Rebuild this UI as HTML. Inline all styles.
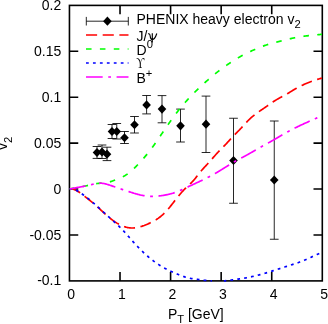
<!DOCTYPE html>
<html><head><meta charset="utf-8"><title>v2</title>
<style>html,body{margin:0;padding:0;background:#fff;overflow:hidden}body{width:328px;height:324px;position:relative;font-family:"Liberation Sans",sans-serif}</style>
</head><body>
<svg width="328" height="324" viewBox="0 0 328 324" style="position:absolute;left:0;top:0">
<rect width="328" height="324" fill="#fff"/>
<clipPath id="c"><rect x="69.45" y="5.4" width="252.85000000000002" height="278.5"/></clipPath>
<g stroke="#000" stroke-width="1.6" fill="none">
<rect x="69.45" y="5.4" width="252.85000000000002" height="275.5"/>
<path d="M120.02,280.9 L120.02,272.09999999999997 M120.02,5.4 L120.02,14.200000000000001"/>
<path d="M170.59,280.9 L170.59,272.09999999999997 M170.59,5.4 L170.59,14.200000000000001"/>
<path d="M221.16,280.9 L221.16,272.09999999999997 M221.16,5.4 L221.16,14.200000000000001"/>
<path d="M271.73,280.9 L271.73,272.09999999999997 M271.73,5.4 L271.73,14.200000000000001"/>
<path d="M69.45,51.32 L78.25,51.32 M322.3,51.32 L313.5,51.32"/>
<path d="M69.45,97.23 L78.25,97.23 M322.3,97.23 L313.5,97.23"/>
<path d="M69.45,143.15 L78.25,143.15 M322.3,143.15 L313.5,143.15"/>
<path d="M69.45,189.07 L78.25,189.07 M322.3,189.07 L313.5,189.07"/>
<path d="M69.45,234.98 L78.25,234.98 M322.3,234.98 L313.5,234.98"/>
</g>
<path d="M86,35 L128.5,35" fill="none" stroke="#ff0000" stroke-width="1.7" stroke-dasharray="11.12,5.56"/>
<path d="M86,49 L128.5,49" fill="none" stroke="#00ff00" stroke-width="1.7" stroke-dasharray="5.56,8.34"/>
<path d="M86,63 L128.5,63" fill="none" stroke="#0000ff" stroke-width="1.7" stroke-dasharray="2.78,4.17"/>
<path d="M86,77 L128.5,77" fill="none" stroke="#ff00ff" stroke-width="1.7" stroke-dasharray="16.68,5.56,2.78,5.56"/>
<g stroke="#000" stroke-width="0.85" fill="none"><path d="M86.3,21.2 L128.3,21.2 M86.3,16.9 L86.3,25.5 M128.3,16.9 L128.3,25.5"/></g>
<path d="M103.10,21.20 L107.40,16.60 L111.70,21.20 L107.40,25.80Z" fill="#000"/>
<g stroke="#000" stroke-width="0.85" fill="none">
<path d="M97,146.5 L97,158.4 M92.65,146.5 L101.35,146.5 M92.65,158.4 L101.35,158.4"/>
<path d="M102,145 L102,158.5 M97.65,145 L106.35,145 M97.65,158.5 L106.35,158.5"/>
<path d="M107,147.2 L107,160.6 M102.65,147.2 L111.35,147.2 M102.65,160.6 L111.35,160.6"/>
<path d="M112,124.5 L112,138.5 M107.65,124.5 L116.35,124.5 M107.65,138.5 L116.35,138.5"/>
<path d="M116.75,123.5 L116.75,139 M112.4,123.5 L121.1,123.5 M112.4,139 L121.1,139"/>
<path d="M124.5,131.5 L124.5,143.5 M120.15,131.5 L128.85,131.5 M120.15,143.5 L128.85,143.5"/>
<path d="M134.5,116.5 L134.5,133 M130.15,116.5 L138.85,116.5 M130.15,133 L138.85,133"/>
<path d="M146.6,95.5 L146.6,113.9 M142.25,95.5 L150.95,95.5 M142.25,113.9 L150.95,113.9"/>
<path d="M162,95.6 L162,122.8 M157.65,95.6 L166.35,95.6 M157.65,122.8 L166.35,122.8"/>
<path d="M180.5,109.1 L180.5,142 M176.15,109.1 L184.85,109.1 M176.15,142 L184.85,142"/>
<path d="M206,96.1 L206,152.5 M201.65,96.1 L210.35,96.1 M201.65,152.5 L210.35,152.5"/>
<path d="M233.5,118.25 L233.5,203.25 M229.15,118.25 L237.85,118.25 M229.15,203.25 L237.85,203.25"/>
<path d="M274.25,121 L274.25,239.25 M269.9,121 L278.6,121 M269.9,239.25 L278.6,239.25"/>
</g>
<path d="M92.70,152.50 L97.00,147.90 L101.30,152.50 L97.00,157.10Z" fill="#000"/>
<path d="M97.70,152.00 L102.00,147.40 L106.30,152.00 L102.00,156.60Z" fill="#000"/>
<path d="M102.70,154.20 L107.00,149.60 L111.30,154.20 L107.00,158.80Z" fill="#000"/>
<path d="M107.70,131.50 L112.00,126.90 L116.30,131.50 L112.00,136.10Z" fill="#000"/>
<path d="M112.45,131.50 L116.75,126.90 L121.05,131.50 L116.75,136.10Z" fill="#000"/>
<path d="M120.20,137.75 L124.50,133.15 L128.80,137.75 L124.50,142.35Z" fill="#000"/>
<path d="M130.20,124.75 L134.50,120.15 L138.80,124.75 L134.50,129.35Z" fill="#000"/>
<path d="M142.30,104.90 L146.60,100.30 L150.90,104.90 L146.60,109.50Z" fill="#000"/>
<path d="M157.70,109.10 L162.00,104.50 L166.30,109.10 L162.00,113.70Z" fill="#000"/>
<path d="M176.20,125.80 L180.50,121.20 L184.80,125.80 L180.50,130.40Z" fill="#000"/>
<path d="M201.70,124.20 L206.00,119.60 L210.30,124.20 L206.00,128.80Z" fill="#000"/>
<path d="M229.20,160.50 L233.50,155.90 L237.80,160.50 L233.50,165.10Z" fill="#000"/>
<path d="M269.95,180.00 L274.25,175.40 L278.55,180.00 L274.25,184.60Z" fill="#000"/>
<g clip-path="url(#c)" fill="none" stroke-linecap="butt">
<path d="M69.50,189.00 L70.13,188.93 L70.77,188.90 L71.40,188.92 L72.03,188.99 L72.66,189.10 L73.30,189.26 L73.93,189.45 L74.56,189.67 L75.20,189.93 L75.83,190.23 L76.46,190.55 L77.09,190.90 L77.73,191.27 L78.36,191.67 L78.99,192.08 L79.63,192.51 L80.26,192.96 L80.89,193.43 L81.52,193.90 L82.16,194.38 L82.79,194.87 L83.42,195.36 L84.06,195.85 L84.69,196.35 L85.32,196.84 L85.95,197.33 L86.59,197.82 L87.22,198.31 L87.85,198.80 L88.48,199.29 L89.12,199.79 L89.75,200.28 L90.38,200.79 L91.02,201.29 L91.65,201.81 L92.28,202.33 L92.91,202.85 L93.55,203.38 L94.18,203.93 L94.81,204.48 L95.45,205.03 L96.08,205.60 L96.71,206.17 L97.34,206.75 L97.98,207.33 L98.61,207.91 L99.24,208.50 L99.88,209.09 L100.51,209.68 L101.14,210.27 L101.77,210.86 L102.41,211.45 L103.04,212.04 L103.67,212.62 L104.31,213.21 L104.94,213.79 L105.57,214.36 L106.20,214.93 L106.84,215.49 L107.47,216.05 L108.10,216.60 L108.74,217.14 L109.37,217.67 L110.00,218.20 L110.63,218.71 L111.27,219.21 L111.90,219.70 L112.53,220.17 L113.17,220.64 L113.80,221.09 L114.43,221.52 L115.06,221.95 L115.70,222.36 L116.33,222.75 L116.96,223.14 L117.60,223.51 L118.23,223.86 L118.86,224.21 L119.49,224.54 L120.13,224.86 L120.76,225.16 L121.39,225.45 L122.03,225.73 L122.66,225.99 L123.29,226.24 L123.92,226.48 L124.56,226.70 L125.19,226.90 L125.82,227.09 L126.45,227.26 L127.09,227.42 L127.72,227.56 L128.35,227.68 L128.99,227.78 L129.62,227.87 L130.25,227.93 L130.88,227.98 L131.52,228.01 L132.15,228.02 L132.78,228.01 L133.42,227.98 L134.05,227.93 L134.68,227.87 L135.31,227.79 L135.95,227.70 L136.58,227.59 L137.21,227.47 L137.85,227.34 L138.48,227.19 L139.11,227.04 L139.74,226.87 L140.38,226.69 L141.01,226.51 L141.64,226.32 L142.28,226.11 L142.91,225.90 L143.54,225.68 L144.17,225.46 L144.81,225.22 L145.44,224.98 L146.07,224.73 L146.71,224.47 L147.34,224.20 L147.97,223.93 L148.60,223.65 L149.24,223.36 L149.87,223.06 L150.50,222.76 L151.14,222.45 L151.77,222.13 L152.40,221.81 L153.03,221.47 L153.67,221.12 L154.30,220.77 L154.93,220.40 L155.57,220.02 L156.20,219.63 L156.83,219.22 L157.46,218.80 L158.10,218.37 L158.73,217.92 L159.36,217.45 L159.99,216.97 L160.63,216.47 L161.26,215.96 L161.89,215.42 L162.53,214.87 L163.16,214.29 L163.79,213.70 L164.42,213.08 L165.06,212.44 L165.69,211.78 L166.32,211.10 L166.96,210.40 L167.59,209.68 L168.22,208.95 L168.85,208.20 L169.49,207.44 L170.12,206.66 L170.75,205.88 L171.39,205.09 L172.02,204.29 L172.65,203.49 L173.28,202.69 L173.92,201.88 L174.55,201.07 L175.18,200.27 L175.82,199.46 L176.45,198.66 L177.08,197.87 L177.71,197.08 L178.35,196.30 L178.98,195.52 L179.61,194.76 L180.25,194.00 L180.88,193.26 L181.51,192.53 L182.14,191.81 L182.78,191.10 L183.41,190.41 L184.04,189.74 L184.68,189.08 L185.31,188.44 L185.94,187.82 L186.57,187.21 L187.21,186.61 L187.84,186.02 L188.47,185.43 L189.11,184.84 L189.74,184.25 L190.37,183.64 L191.00,183.03 L191.64,182.41 L192.27,181.76 L192.90,181.10 L193.54,180.41 L194.17,179.69 L194.80,178.95 L195.43,178.18 L196.07,177.39 L196.70,176.59 L197.33,175.79 L197.96,174.97 L198.60,174.16 L199.23,173.36 L199.86,172.56 L200.50,171.78 L201.13,171.02 L201.76,170.28 L202.39,169.55 L203.03,168.84 L203.66,168.13 L204.29,167.44 L204.93,166.75 L205.56,166.07 L206.19,165.39 L206.82,164.71 L207.46,164.03 L208.09,163.35 L208.72,162.67 L209.36,161.97 L209.99,161.27 L210.62,160.55 L211.25,159.83 L211.89,159.11 L212.52,158.38 L213.15,157.65 L213.79,156.92 L214.42,156.20 L215.05,155.47 L215.68,154.76 L216.32,154.05 L216.95,153.35 L217.58,152.67 L218.22,151.99 L218.85,151.33 L219.48,150.67 L220.11,150.02 L220.75,149.38 L221.38,148.73 L222.01,148.09 L222.65,147.45 L223.28,146.81 L223.91,146.17 L224.54,145.53 L225.18,144.87 L225.81,144.22 L226.44,143.55 L227.08,142.87 L227.71,142.19 L228.34,141.50 L228.97,140.81 L229.61,140.12 L230.24,139.43 L230.87,138.73 L231.51,138.04 L232.14,137.36 L232.77,136.68 L233.40,136.01 L234.04,135.35 L234.67,134.70 L235.30,134.06 L235.93,133.42 L236.57,132.78 L237.20,132.15 L237.83,131.51 L238.47,130.87 L239.10,130.23 L239.73,129.58 L240.36,128.92 L241.00,128.25 L241.63,127.57 L242.26,126.89 L242.90,126.20 L243.53,125.51 L244.16,124.82 L244.79,124.13 L245.43,123.44 L246.06,122.76 L246.69,122.09 L247.33,121.42 L247.96,120.77 L248.59,120.13 L249.22,119.50 L249.86,118.89 L250.49,118.29 L251.12,117.71 L251.76,117.15 L252.39,116.60 L253.02,116.07 L253.65,115.55 L254.29,115.05 L254.92,114.55 L255.55,114.07 L256.19,113.60 L256.82,113.13 L257.45,112.68 L258.08,112.23 L258.72,111.78 L259.35,111.34 L259.98,110.91 L260.62,110.48 L261.25,110.05 L261.88,109.62 L262.51,109.19 L263.15,108.77 L263.78,108.34 L264.41,107.90 L265.05,107.47 L265.68,107.03 L266.31,106.59 L266.94,106.14 L267.58,105.70 L268.21,105.25 L268.84,104.80 L269.47,104.35 L270.11,103.91 L270.74,103.47 L271.37,103.03 L272.01,102.59 L272.64,102.16 L273.27,101.74 L273.90,101.32 L274.54,100.91 L275.17,100.51 L275.80,100.12 L276.44,99.74 L277.07,99.37 L277.70,99.00 L278.33,98.65 L278.97,98.30 L279.60,97.95 L280.23,97.61 L280.87,97.27 L281.50,96.94 L282.13,96.60 L282.76,96.27 L283.40,95.93 L284.03,95.59 L284.66,95.25 L285.30,94.90 L285.93,94.54 L286.56,94.18 L287.19,93.81 L287.83,93.43 L288.46,93.06 L289.09,92.67 L289.73,92.29 L290.36,91.90 L290.99,91.51 L291.62,91.12 L292.26,90.73 L292.89,90.34 L293.52,89.96 L294.16,89.58 L294.79,89.20 L295.42,88.83 L296.05,88.47 L296.69,88.11 L297.32,87.76 L297.95,87.42 L298.59,87.08 L299.22,86.75 L299.85,86.43 L300.48,86.11 L301.12,85.80 L301.75,85.50 L302.38,85.20 L303.02,84.90 L303.65,84.62 L304.28,84.33 L304.91,84.06 L305.55,83.78 L306.18,83.52 L306.81,83.25 L307.44,83.00 L308.08,82.74 L308.71,82.49 L309.34,82.25 L309.98,82.01 L310.61,81.77 L311.24,81.54 L311.87,81.31 L312.51,81.08 L313.14,80.86 L313.77,80.64 L314.41,80.42 L315.04,80.21 L315.67,80.00 L316.30,79.79 L316.94,79.58 L317.57,79.38 L318.20,79.18 L318.84,78.98 L319.47,78.78 L320.10,78.58 L320.73,78.39 L321.37,78.19 L322.00,78.00" stroke="#ff0000" stroke-width="1.7" stroke-dasharray="11.12,5.56" stroke-dashoffset="-0.5"/>
<path d="M69.50,189.00 L70.13,188.87 L70.77,188.73 L71.40,188.61 L72.03,188.48 L72.66,188.36 L73.30,188.24 L73.93,188.12 L74.56,188.01 L75.20,187.89 L75.83,187.78 L76.46,187.67 L77.09,187.56 L77.73,187.45 L78.36,187.34 L78.99,187.23 L79.63,187.11 L80.26,187.00 L80.89,186.88 L81.52,186.77 L82.16,186.65 L82.79,186.53 L83.42,186.41 L84.06,186.28 L84.69,186.15 L85.32,186.02 L85.95,185.88 L86.59,185.74 L87.22,185.60 L87.85,185.45 L88.48,185.31 L89.12,185.16 L89.75,185.01 L90.38,184.87 L91.02,184.72 L91.65,184.58 L92.28,184.44 L92.91,184.30 L93.55,184.17 L94.18,184.04 L94.81,183.92 L95.45,183.80 L96.08,183.70 L96.71,183.59 L97.34,183.50 L97.98,183.42 L98.61,183.34 L99.24,183.28 L99.88,183.22 L100.51,183.17 L101.14,183.13 L101.77,183.09 L102.41,183.05 L103.04,183.00 L103.67,182.96 L104.31,182.90 L104.94,182.84 L105.57,182.76 L106.20,182.67 L106.84,182.56 L107.47,182.44 L108.10,182.30 L108.74,182.15 L109.37,181.99 L110.00,181.81 L110.63,181.62 L111.27,181.42 L111.90,181.21 L112.53,180.99 L113.17,180.76 L113.80,180.52 L114.43,180.27 L115.06,180.01 L115.70,179.76 L116.33,179.49 L116.96,179.23 L117.60,178.97 L118.23,178.71 L118.86,178.44 L119.49,178.18 L120.13,177.92 L120.76,177.65 L121.39,177.37 L122.03,177.08 L122.66,176.78 L123.29,176.47 L123.92,176.14 L124.56,175.80 L125.19,175.44 L125.82,175.05 L126.45,174.64 L127.09,174.22 L127.72,173.77 L128.35,173.31 L128.99,172.82 L129.62,172.32 L130.25,171.81 L130.88,171.27 L131.52,170.73 L132.15,170.17 L132.78,169.59 L133.42,169.01 L134.05,168.41 L134.68,167.80 L135.31,167.19 L135.95,166.56 L136.58,165.93 L137.21,165.28 L137.85,164.63 L138.48,163.97 L139.11,163.30 L139.74,162.62 L140.38,161.93 L141.01,161.23 L141.64,160.53 L142.28,159.82 L142.91,159.10 L143.54,158.37 L144.17,157.63 L144.81,156.89 L145.44,156.14 L146.07,155.37 L146.71,154.61 L147.34,153.83 L147.97,153.04 L148.60,152.25 L149.24,151.44 L149.87,150.63 L150.50,149.81 L151.14,148.97 L151.77,148.13 L152.40,147.28 L153.03,146.42 L153.67,145.54 L154.30,144.66 L154.93,143.77 L155.57,142.88 L156.20,141.97 L156.83,141.06 L157.46,140.14 L158.10,139.22 L158.73,138.30 L159.36,137.37 L159.99,136.44 L160.63,135.50 L161.26,134.57 L161.89,133.63 L162.53,132.70 L163.16,131.76 L163.79,130.83 L164.42,129.90 L165.06,128.97 L165.69,128.04 L166.32,127.11 L166.96,126.19 L167.59,125.27 L168.22,124.36 L168.85,123.45 L169.49,122.55 L170.12,121.65 L170.75,120.76 L171.39,119.87 L172.02,118.99 L172.65,118.12 L173.28,117.25 L173.92,116.39 L174.55,115.54 L175.18,114.69 L175.82,113.85 L176.45,113.02 L177.08,112.20 L177.71,111.38 L178.35,110.57 L178.98,109.77 L179.61,108.98 L180.25,108.20 L180.88,107.42 L181.51,106.66 L182.14,105.90 L182.78,105.15 L183.41,104.41 L184.04,103.67 L184.68,102.95 L185.31,102.23 L185.94,101.51 L186.57,100.81 L187.21,100.11 L187.84,99.41 L188.47,98.73 L189.11,98.05 L189.74,97.37 L190.37,96.70 L191.00,96.04 L191.64,95.38 L192.27,94.72 L192.90,94.07 L193.54,93.43 L194.17,92.79 L194.80,92.15 L195.43,91.52 L196.07,90.89 L196.70,90.27 L197.33,89.66 L197.96,89.04 L198.60,88.43 L199.23,87.83 L199.86,87.23 L200.50,86.63 L201.13,86.04 L201.76,85.45 L202.39,84.87 L203.03,84.29 L203.66,83.71 L204.29,83.14 L204.93,82.57 L205.56,82.00 L206.19,81.44 L206.82,80.88 L207.46,80.33 L208.09,79.77 L208.72,79.23 L209.36,78.68 L209.99,78.14 L210.62,77.61 L211.25,77.07 L211.89,76.54 L212.52,76.02 L213.15,75.49 L213.79,74.97 L214.42,74.46 L215.05,73.95 L215.68,73.44 L216.32,72.93 L216.95,72.43 L217.58,71.94 L218.22,71.44 L218.85,70.95 L219.48,70.46 L220.11,69.98 L220.75,69.50 L221.38,69.02 L222.01,68.55 L222.65,68.08 L223.28,67.62 L223.91,67.16 L224.54,66.70 L225.18,66.24 L225.81,65.79 L226.44,65.35 L227.08,64.90 L227.71,64.46 L228.34,64.03 L228.97,63.60 L229.61,63.17 L230.24,62.75 L230.87,62.33 L231.51,61.91 L232.14,61.50 L232.77,61.09 L233.40,60.69 L234.04,60.29 L234.67,59.90 L235.30,59.51 L235.93,59.12 L236.57,58.74 L237.20,58.36 L237.83,57.99 L238.47,57.62 L239.10,57.26 L239.73,56.90 L240.36,56.55 L241.00,56.20 L241.63,55.85 L242.26,55.51 L242.90,55.18 L243.53,54.84 L244.16,54.52 L244.79,54.19 L245.43,53.87 L246.06,53.55 L246.69,53.24 L247.33,52.93 L247.96,52.62 L248.59,52.32 L249.22,52.02 L249.86,51.72 L250.49,51.42 L251.12,51.13 L251.76,50.84 L252.39,50.55 L253.02,50.26 L253.65,49.98 L254.29,49.70 L254.92,49.42 L255.55,49.14 L256.19,48.87 L256.82,48.60 L257.45,48.33 L258.08,48.06 L258.72,47.80 L259.35,47.55 L259.98,47.29 L260.62,47.04 L261.25,46.79 L261.88,46.55 L262.51,46.31 L263.15,46.08 L263.78,45.85 L264.41,45.63 L265.05,45.41 L265.68,45.19 L266.31,44.98 L266.94,44.78 L267.58,44.58 L268.21,44.38 L268.84,44.19 L269.47,44.00 L270.11,43.82 L270.74,43.64 L271.37,43.46 L272.01,43.29 L272.64,43.12 L273.27,42.95 L273.90,42.79 L274.54,42.62 L275.17,42.46 L275.80,42.30 L276.44,42.14 L277.07,41.98 L277.70,41.82 L278.33,41.66 L278.97,41.51 L279.60,41.35 L280.23,41.19 L280.87,41.03 L281.50,40.87 L282.13,40.71 L282.76,40.56 L283.40,40.40 L284.03,40.24 L284.66,40.08 L285.30,39.92 L285.93,39.76 L286.56,39.61 L287.19,39.45 L287.83,39.30 L288.46,39.15 L289.09,39.00 L289.73,38.85 L290.36,38.70 L290.99,38.56 L291.62,38.41 L292.26,38.27 L292.89,38.13 L293.52,38.00 L294.16,37.87 L294.79,37.74 L295.42,37.61 L296.05,37.49 L296.69,37.37 L297.32,37.26 L297.95,37.14 L298.59,37.03 L299.22,36.93 L299.85,36.83 L300.48,36.73 L301.12,36.63 L301.75,36.53 L302.38,36.44 L303.02,36.35 L303.65,36.27 L304.28,36.18 L304.91,36.10 L305.55,36.02 L306.18,35.94 L306.81,35.86 L307.44,35.79 L308.08,35.71 L308.71,35.64 L309.34,35.57 L309.98,35.50 L310.61,35.43 L311.24,35.37 L311.87,35.30 L312.51,35.24 L313.14,35.17 L313.77,35.11 L314.41,35.05 L315.04,34.98 L315.67,34.92 L316.30,34.86 L316.94,34.80 L317.57,34.74 L318.20,34.68 L318.84,34.61 L319.47,34.55 L320.10,34.49 L320.73,34.43 L321.37,34.36 L322.00,34.30" stroke="#00ff00" stroke-width="1.7" stroke-dasharray="5.56,8.34" stroke-dashoffset="0.6"/>
<path d="M69.50,189.00 L70.13,188.92 L70.77,188.89 L71.40,188.90 L72.03,188.95 L72.66,189.05 L73.30,189.19 L73.93,189.36 L74.56,189.56 L75.20,189.80 L75.83,190.07 L76.46,190.37 L77.09,190.70 L77.73,191.05 L78.36,191.42 L78.99,191.81 L79.63,192.22 L80.26,192.65 L80.89,193.10 L81.52,193.55 L82.16,194.02 L82.79,194.49 L83.42,194.97 L84.06,195.46 L84.69,195.94 L85.32,196.43 L85.95,196.92 L86.59,197.42 L87.22,197.91 L87.85,198.41 L88.48,198.91 L89.12,199.41 L89.75,199.92 L90.38,200.43 L91.02,200.95 L91.65,201.48 L92.28,202.00 L92.91,202.54 L93.55,203.08 L94.18,203.63 L94.81,204.19 L95.45,204.75 L96.08,205.32 L96.71,205.89 L97.34,206.47 L97.98,207.05 L98.61,207.63 L99.24,208.22 L99.88,208.80 L100.51,209.39 L101.14,209.98 L101.77,210.57 L102.41,211.15 L103.04,211.74 L103.67,212.32 L104.31,212.90 L104.94,213.48 L105.57,214.05 L106.20,214.63 L106.84,215.20 L107.47,215.77 L108.10,216.34 L108.74,216.91 L109.37,217.48 L110.00,218.05 L110.63,218.62 L111.27,219.19 L111.90,219.76 L112.53,220.33 L113.17,220.90 L113.80,221.47 L114.43,222.05 L115.06,222.63 L115.70,223.21 L116.33,223.80 L116.96,224.39 L117.60,224.98 L118.23,225.58 L118.86,226.19 L119.49,226.80 L120.13,227.42 L120.76,228.05 L121.39,228.68 L122.03,229.33 L122.66,229.98 L123.29,230.65 L123.92,231.32 L124.56,232.01 L125.19,232.71 L125.82,233.42 L126.45,234.14 L127.09,234.87 L127.72,235.60 L128.35,236.33 L128.99,237.06 L129.62,237.79 L130.25,238.51 L130.88,239.23 L131.52,239.95 L132.15,240.67 L132.78,241.38 L133.42,242.08 L134.05,242.78 L134.68,243.48 L135.31,244.17 L135.95,244.85 L136.58,245.53 L137.21,246.20 L137.85,246.86 L138.48,247.52 L139.11,248.17 L139.74,248.81 L140.38,249.44 L141.01,250.07 L141.64,250.69 L142.28,251.30 L142.91,251.91 L143.54,252.51 L144.17,253.10 L144.81,253.68 L145.44,254.26 L146.07,254.83 L146.71,255.39 L147.34,255.95 L147.97,256.49 L148.60,257.03 L149.24,257.57 L149.87,258.09 L150.50,258.61 L151.14,259.12 L151.77,259.63 L152.40,260.12 L153.03,260.61 L153.67,261.09 L154.30,261.56 L154.93,262.03 L155.57,262.49 L156.20,262.94 L156.83,263.38 L157.46,263.82 L158.10,264.25 L158.73,264.66 L159.36,265.08 L159.99,265.48 L160.63,265.88 L161.26,266.26 L161.89,266.64 L162.53,267.02 L163.16,267.38 L163.79,267.73 L164.42,268.08 L165.06,268.43 L165.69,268.76 L166.32,269.09 L166.96,269.41 L167.59,269.73 L168.22,270.04 L168.85,270.35 L169.49,270.66 L170.12,270.96 L170.75,271.25 L171.39,271.55 L172.02,271.84 L172.65,272.12 L173.28,272.41 L173.92,272.69 L174.55,272.96 L175.18,273.24 L175.82,273.50 L176.45,273.77 L177.08,274.03 L177.71,274.29 L178.35,274.55 L178.98,274.80 L179.61,275.05 L180.25,275.29 L180.88,275.54 L181.51,275.77 L182.14,276.01 L182.78,276.24 L183.41,276.46 L184.04,276.67 L184.68,276.88 L185.31,277.09 L185.94,277.28 L186.57,277.46 L187.21,277.64 L187.84,277.81 L188.47,277.97 L189.11,278.11 L189.74,278.25 L190.37,278.37 L191.00,278.48 L191.64,278.59 L192.27,278.68 L192.90,278.77 L193.54,278.85 L194.17,278.93 L194.80,279.01 L195.43,279.08 L196.07,279.15 L196.70,279.23 L197.33,279.30 L197.96,279.38 L198.60,279.47 L199.23,279.55 L199.86,279.64 L200.50,279.73 L201.13,279.82 L201.76,279.90 L202.39,279.99 L203.03,280.07 L203.66,280.15 L204.29,280.22 L204.93,280.29 L205.56,280.35 L206.19,280.42 L206.82,280.48 L207.46,280.53 L208.09,280.59 L208.72,280.65 L209.36,280.70 L209.99,280.76 L210.62,280.82 L211.25,280.87 L211.89,280.93 M223.91,280.91 L224.54,280.84 L225.18,280.78 L225.81,280.71 L226.44,280.64 L227.08,280.57 L227.71,280.49 L228.34,280.42 L228.97,280.34 L229.61,280.26 L230.24,280.18 L230.87,280.10 L231.51,280.01 L232.14,279.92 L232.77,279.84 L233.40,279.75 L234.04,279.66 L234.67,279.57 L235.30,279.48 L235.93,279.39 L236.57,279.30 L237.20,279.22 L237.83,279.13 L238.47,279.05 L239.10,278.96 L239.73,278.87 L240.36,278.78 L241.00,278.69 L241.63,278.60 L242.26,278.51 L242.90,278.41 L243.53,278.31 L244.16,278.21 L244.79,278.10 L245.43,277.99 L246.06,277.87 L246.69,277.75 L247.33,277.63 L247.96,277.50 L248.59,277.37 L249.22,277.24 L249.86,277.10 L250.49,276.97 L251.12,276.83 L251.76,276.68 L252.39,276.54 L253.02,276.40 L253.65,276.25 L254.29,276.10 L254.92,275.95 L255.55,275.80 L256.19,275.65 L256.82,275.49 L257.45,275.34 L258.08,275.18 L258.72,275.02 L259.35,274.85 L259.98,274.69 L260.62,274.52 L261.25,274.35 L261.88,274.17 L262.51,274.00 L263.15,273.82 L263.78,273.63 L264.41,273.45 L265.05,273.26 L265.68,273.07 L266.31,272.87 L266.94,272.68 L267.58,272.48 L268.21,272.28 L268.84,272.09 L269.47,271.88 L270.11,271.68 L270.74,271.48 L271.37,271.28 L272.01,271.08 L272.64,270.88 L273.27,270.67 L273.90,270.47 L274.54,270.27 L275.17,270.07 L275.80,269.86 L276.44,269.66 L277.07,269.46 L277.70,269.25 L278.33,269.05 L278.97,268.85 L279.60,268.64 L280.23,268.44 L280.87,268.24 L281.50,268.03 L282.13,267.83 L282.76,267.62 L283.40,267.42 L284.03,267.22 L284.66,267.01 L285.30,266.81 L285.93,266.61 L286.56,266.40 L287.19,266.20 L287.83,266.00 L288.46,265.79 L289.09,265.59 L289.73,265.39 L290.36,265.19 L290.99,264.98 L291.62,264.78 L292.26,264.58 L292.89,264.37 L293.52,264.17 L294.16,263.96 L294.79,263.75 L295.42,263.54 L296.05,263.33 L296.69,263.12 L297.32,262.90 L297.95,262.69 L298.59,262.46 L299.22,262.24 L299.85,262.01 L300.48,261.78 L301.12,261.54 L301.75,261.31 L302.38,261.06 L303.02,260.81 L303.65,260.56 L304.28,260.30 L304.91,260.04 L305.55,259.77 L306.18,259.49 L306.81,259.21 L307.44,258.93 L308.08,258.64 L308.71,258.35 L309.34,258.06 L309.98,257.77 L310.61,257.47 L311.24,257.17 L311.87,256.87 L312.51,256.58 L313.14,256.28 L313.77,255.99 L314.41,255.69 L315.04,255.40 L315.67,255.11 L316.30,254.83 L316.94,254.55 L317.57,254.27 L318.20,254.00 L318.84,253.73 L319.47,253.47 L320.10,253.22 L320.73,252.97 L321.37,252.73 L322.00,252.50" stroke="#0000ff" stroke-width="1.7" stroke-dasharray="2.78,4.17" stroke-dashoffset="0.4"/>
<path d="M69.50,189.00 L70.13,188.87 L70.77,188.74 L71.40,188.61 L72.03,188.49 L72.66,188.37 L73.30,188.25 L73.93,188.13 L74.56,188.02 L75.20,187.90 L75.83,187.79 L76.46,187.67 L77.09,187.56 L77.73,187.45 L78.36,187.34 L78.99,187.22 L79.63,187.11 L80.26,186.99 L80.89,186.88 L81.52,186.76 L82.16,186.64 L82.79,186.52 L83.42,186.40 L84.06,186.27 L84.69,186.15 L85.32,186.02 L85.95,185.88 L86.59,185.75 L87.22,185.61 L87.85,185.47 L88.48,185.32 L89.12,185.18 L89.75,185.03 L90.38,184.88 L91.02,184.73 L91.65,184.58 L92.28,184.43 L92.91,184.28 L93.55,184.14 L94.18,183.99 L94.81,183.86 L95.45,183.73 L96.08,183.61 L96.71,183.50 L97.34,183.41 L97.98,183.33 L98.61,183.27 L99.24,183.23 L99.88,183.20 L100.51,183.20 L101.14,183.23 L101.77,183.27 L102.41,183.34 L103.04,183.42 L103.67,183.52 L104.31,183.64 L104.94,183.77 L105.57,183.92 L106.20,184.08 L106.84,184.25 L107.47,184.44 L108.10,184.63 L108.74,184.82 L109.37,185.03 L110.00,185.24 L110.63,185.45 L111.27,185.67 L111.90,185.90 L112.53,186.12 L113.17,186.35 L113.80,186.57 L114.43,186.80 L115.06,187.02 L115.70,187.24 L116.33,187.46 L116.96,187.68 L117.60,187.89 L118.23,188.11 L118.86,188.32 L119.49,188.53 L120.13,188.74 L120.76,188.95 L121.39,189.16 L122.03,189.37 L122.66,189.59 L123.29,189.80 L123.92,190.01 L124.56,190.22 L125.19,190.43 L125.82,190.64 L126.45,190.84 L127.09,191.05 L127.72,191.26 L128.35,191.47 L128.99,191.67 L129.62,191.88 L130.25,192.08 L130.88,192.28 L131.52,192.48 L132.15,192.68 L132.78,192.88 L133.42,193.07 L134.05,193.27 L134.68,193.45 L135.31,193.64 L135.95,193.82 L136.58,194.00 L137.21,194.17 L137.85,194.34 L138.48,194.50 L139.11,194.66 L139.74,194.82 L140.38,194.96 L141.01,195.11 L141.64,195.24 L142.28,195.37 L142.91,195.49 L143.54,195.61 L144.17,195.71 L144.81,195.81 L145.44,195.91 L146.07,195.99 L146.71,196.07 L147.34,196.14 L147.97,196.20 L148.60,196.25 L149.24,196.30 L149.87,196.34 L150.50,196.36 L151.14,196.38 L151.77,196.40 L152.40,196.40 L153.03,196.40 L153.67,196.38 L154.30,196.36 L154.93,196.33 L155.57,196.30 L156.20,196.25 L156.83,196.20 L157.46,196.14 L158.10,196.08 L158.73,196.01 L159.36,195.94 L159.99,195.86 L160.63,195.77 L161.26,195.69 L161.89,195.59 L162.53,195.50 L163.16,195.40 L163.79,195.29 L164.42,195.18 L165.06,195.07 L165.69,194.95 L166.32,194.83 L166.96,194.70 L167.59,194.56 L168.22,194.43 L168.85,194.28 L169.49,194.13 L170.12,193.97 L170.75,193.80 L171.39,193.63 L172.02,193.45 L172.65,193.27 L173.28,193.07 L173.92,192.87 L174.55,192.66 L175.18,192.44 L175.82,192.21 L176.45,191.97 L177.08,191.73 L177.71,191.47 L178.35,191.22 L178.98,190.95 L179.61,190.68 L180.25,190.41 L180.88,190.13 L181.51,189.85 L182.14,189.56 L182.78,189.27 L183.41,188.98 L184.04,188.69 L184.68,188.40 L185.31,188.11 L185.94,187.81 L186.57,187.52 L187.21,187.23 L187.84,186.93 L188.47,186.64 L189.11,186.35 L189.74,186.05 L190.37,185.76 L191.00,185.46 L191.64,185.17 L192.27,184.87 L192.90,184.58 L193.54,184.28 L194.17,183.99 L194.80,183.69 L195.43,183.40 L196.07,183.10 L196.70,182.80 L197.33,182.51 L197.96,182.21 L198.60,181.91 L199.23,181.61 L199.86,181.31 L200.50,181.02 L201.13,180.72 L201.76,180.42 L202.39,180.12 L203.03,179.81 L203.66,179.51 L204.29,179.20 L204.93,178.90 L205.56,178.59 L206.19,178.28 L206.82,177.96 L207.46,177.65 L208.09,177.33 L208.72,177.00 L209.36,176.68 L209.99,176.35 L210.62,176.01 L211.25,175.68 L211.89,175.34 L212.52,174.99 L213.15,174.64 L213.79,174.28 L214.42,173.92 L215.05,173.56 L215.68,173.19 L216.32,172.82 L216.95,172.45 L217.58,172.07 L218.22,171.69 L218.85,171.31 L219.48,170.92 L220.11,170.53 L220.75,170.14 L221.38,169.75 L222.01,169.36 L222.65,168.97 L223.28,168.57 L223.91,168.18 L224.54,167.78 L225.18,167.39 L225.81,166.99 L226.44,166.60 L227.08,166.20 L227.71,165.81 L228.34,165.42 L228.97,165.03 L229.61,164.64 L230.24,164.25 L230.87,163.86 L231.51,163.48 L232.14,163.10 L232.77,162.72 L233.40,162.34 L234.04,161.97 L234.67,161.60 L235.30,161.24 L235.93,160.87 L236.57,160.52 L237.20,160.17 L237.83,159.82 L238.47,159.47 L239.10,159.13 L239.73,158.80 L240.36,158.46 L241.00,158.13 L241.63,157.80 L242.26,157.47 L242.90,157.14 L243.53,156.81 L244.16,156.48 L244.79,156.14 L245.43,155.81 L246.06,155.47 L246.69,155.12 L247.33,154.78 L247.96,154.43 L248.59,154.07 L249.22,153.71 L249.86,153.36 L250.49,152.99 L251.12,152.63 L251.76,152.27 L252.39,151.90 L253.02,151.53 L253.65,151.17 L254.29,150.80 L254.92,150.43 L255.55,150.06 L256.19,149.69 L256.82,149.33 L257.45,148.96 L258.08,148.59 L258.72,148.23 L259.35,147.87 L259.98,147.51 L260.62,147.15 L261.25,146.80 L261.88,146.45 L262.51,146.09 L263.15,145.74 L263.78,145.40 L264.41,145.05 L265.05,144.70 L265.68,144.35 L266.31,144.01 L266.94,143.66 L267.58,143.31 L268.21,142.97 L268.84,142.62 L269.47,142.27 L270.11,141.92 L270.74,141.56 L271.37,141.21 L272.01,140.85 L272.64,140.49 L273.27,140.13 L273.90,139.77 L274.54,139.40 L275.17,139.03 L275.80,138.66 L276.44,138.28 L277.07,137.91 L277.70,137.53 L278.33,137.16 L278.97,136.78 L279.60,136.41 L280.23,136.03 L280.87,135.66 L281.50,135.29 L282.13,134.92 L282.76,134.56 L283.40,134.20 L284.03,133.84 L284.66,133.48 L285.30,133.12 L285.93,132.77 L286.56,132.42 L287.19,132.07 L287.83,131.73 L288.46,131.39 L289.09,131.05 L289.73,130.71 L290.36,130.37 L290.99,130.04 L291.62,129.71 L292.26,129.39 L292.89,129.06 L293.52,128.74 L294.16,128.42 L294.79,128.10 L295.42,127.79 L296.05,127.47 L296.69,127.16 L297.32,126.86 L297.95,126.55 L298.59,126.25 L299.22,125.94 L299.85,125.64 L300.48,125.35 L301.12,125.05 L301.75,124.75 L302.38,124.46 L303.02,124.17 L303.65,123.88 L304.28,123.59 L304.91,123.30 L305.55,123.01 L306.18,122.72 L306.81,122.44 L307.44,122.15 L308.08,121.86 L308.71,121.58 L309.34,121.30 L309.98,121.01 L310.61,120.73 L311.24,120.44 L311.87,120.16 L312.51,119.87 L313.14,119.59 L313.77,119.30 L314.41,119.02 L315.04,118.73 L315.67,118.44 L316.30,118.15 L316.94,117.86 L317.57,117.57 L318.20,117.28 L318.84,116.99 L319.47,116.69 L320.10,116.40 L320.73,116.10 L321.37,115.80 L322.00,115.50" stroke="#ff00ff" stroke-width="1.7" stroke-dasharray="16.68,5.56,2.78,5.56" stroke-dashoffset="0.3"/>
</g>
<g font-family="Liberation Sans, sans-serif" font-size="14" fill="#000" style="filter:grayscale(1)">
<text x="61.3" y="9.95" text-anchor="end">0.2</text>
<text x="61.3" y="55.87" text-anchor="end">0.15</text>
<text x="61.3" y="101.78" text-anchor="end">0.1</text>
<text x="61.3" y="147.70" text-anchor="end">0.05</text>
<text x="61.3" y="193.62" text-anchor="end">0</text>
<text x="61.3" y="239.53" text-anchor="end">-0.05</text>
<text x="61.3" y="285.45" text-anchor="end">-0.1</text>
<text x="71.25" y="299.4" text-anchor="middle">0</text>
<text x="121.82" y="299.4" text-anchor="middle">1</text>
<text x="172.39" y="299.4" text-anchor="middle">2</text>
<text x="222.96" y="299.4" text-anchor="middle">3</text>
<text x="273.53" y="299.4" text-anchor="middle">4</text>
<text x="324.10" y="299.4" text-anchor="middle">5</text>
<text x="136.5" y="23.6">PHENIX heavy electron v<tspan font-size="11.2" dy="4.2">2</tspan></text>
<text x="136.4" y="40.5">J/</text>
<path d="M148.1,33.9 C149.6,33.3 150,34.6 150.2,36.2 C150.5,38.6 151,39.6 152.3,39.6 C154,39.6 155.3,38 156.8,33.5 M152.3,33.3 L152.3,42.4" fill="none" stroke="#000" stroke-width="1.15"/>
<text x="136.5" y="54.5">D<tspan font-size="11.2" dy="-6.8">0</tspan></text>
<text transform="translate(136.3,67.8) scale(0.8,1)" font-family="Liberation Serif, serif">ϒ</text>
<text x="136.5" y="82.7">B<tspan font-size="11.2" dy="-5.5">+</tspan></text>
<text x="167.9" y="319.1">P<tspan font-size="11.2" dy="3.7">T</tspan><tspan dy="-3.7"> [GeV]</tspan></text>
<text transform="translate(7.4,150) rotate(-90)">v<tspan font-size="11.2" dy="4.2">2</tspan></text>
</g>
</svg>
</body></html>
